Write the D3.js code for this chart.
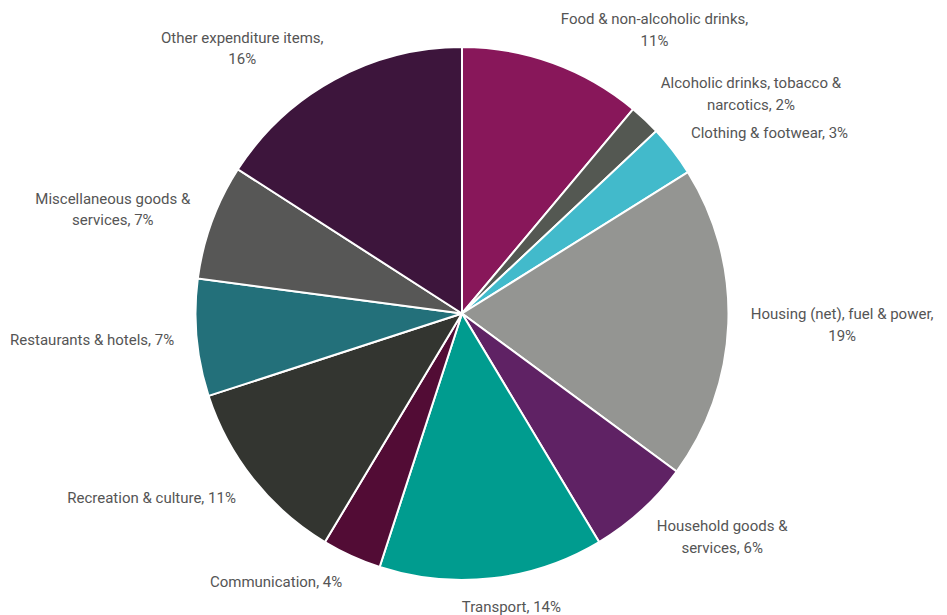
<!DOCTYPE html>
<html>
<head>
<meta charset="utf-8">
<script src="https://cdn.jsdelivr.net/npm/d3@7"></script>
<style>
  body { margin: 0; background: #fff; }
  svg { display: block; font-family: Roboto, "Noto Sans", sans-serif; }
</style>
</head>
<body>
<div id="chart"></div>
<script>
const categories = [
  "Food & non-alcoholic drinks",
  "Alcoholic drinks, tobacco & narcotics",
  "Clothing & footwear",
  "Housing (net), fuel & power",
  "Household goods & services",
  "Transport",
  "Communication",
  "Recreation & culture",
  "Restaurants & hotels",
  "Miscellaneous goods & services",
  "Other expenditure items"
];
const shares = [11.1, 1.9, 3.1, 19.0, 6.3, 13.6, 3.6, 11.4, 7.1, 7.0, 15.9];
const colors = ["#88175a", "#545852", "#42bacb", "#949592", "#5f2264", "#009c8f",
  "#520c35", "#333530", "#23707a", "#575756", "#3d153c"];
// label lines as they wrap in the picture
const labelLines = [
  ["Food & non-alcoholic drinks,", "11%"],
  ["Alcoholic drinks, tobacco &", "narcotics, 2%"],
  ["Clothing & footwear, 3%"],
  ["Housing (net), fuel & power,", "19%"],
  ["Household goods &", "services, 6%"],
  ["Transport, 14%"],
  ["Communication, 4%"],
  ["Recreation & culture, 11%"],
  ["Restaurants & hotels, 7%"],
  ["Miscellaneous goods &", "services, 7%"],
  ["Other expenditure items,", "16%"]
];

const width = 947, height = 615;
const cx = 462, cy = 313.5, radius = 266.5, labelR = 289, lineH = 21.5;

const svg = d3.select("#chart").append("svg")
  .attr("width", width)
  .attr("height", height);

const pie = d3.pie().sort(null).value(d => d)(shares);
const arc = d3.arc().innerRadius(0).outerRadius(radius);

const g = svg.append("g").attr("transform", `translate(${cx},${cy})`);

g.selectAll("path")
  .data(pie)
  .join("path")
  .attr("d", arc)
  .attr("fill", (d, i) => colors[i])
  .attr("stroke", "#fff")
  .attr("stroke-width", 2);

const labels = g.selectAll("g.label")
  .data(pie)
  .join("g")
  .attr("class", "label");

labels.each(function(d, i) {
  const lab = d3.select(this);
  const lines = labelLines[i];
  const t = lab.append("text")
    .attr("fill", "#555")
    .attr("font-size", 15)
    .attr("text-anchor", "middle");
  lines.forEach((s, k) => {
    t.append("tspan").attr("x", 0).attr("y", k * lineH).text(s);
  });
  const w = t.node().getBBox().width, h = lines.length * lineH;
  const a = (d.startAngle + d.endAngle) / 2;
  const px = labelR * Math.sin(a), py = -labelR * Math.cos(a);
  const s = Math.max(-1, Math.min(1, Math.sin(a) * 3));
  const left = px - w * (1 - s) / 2;
  const midY = py - (h / 2) * Math.cos(a) * 0.6;
  const firstCenter = midY - h / 2 + lineH / 2;
  lab.attr("transform", `translate(${left + w / 2},${firstCenter + 5})`);
});
</script>
</body>
</html>
